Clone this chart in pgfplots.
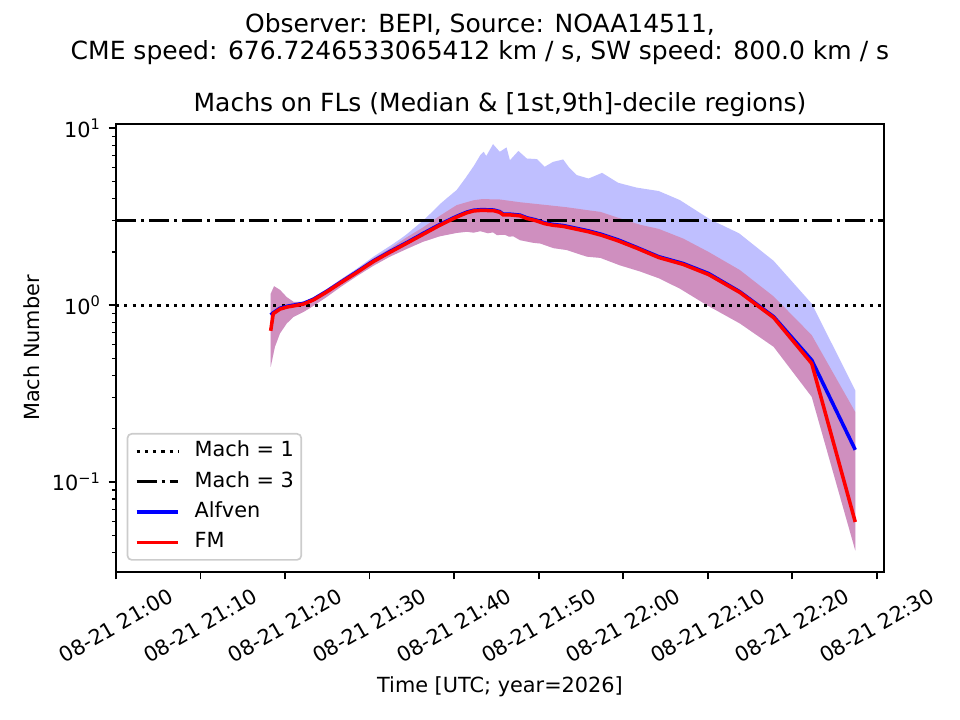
\documentclass[border=0pt]{standalone}
\usepackage{fontspec}
\setmainfont{DejaVu Sans}
\usepackage{graphicx}
\usepackage{pgfplots}
\pgfplotsset{compat=1.18}
\usepgfplotslibrary{fillbetween}
\usepackage{pgfplotstable}

% time in minutes after 2026-08-21 21:00 UTC
\pgfplotstableread{
t v
18.3 0.88
18.6 0.905
19.4 0.96
20.2 0.985
21.0 1.0
22.2 1.025
23.35 1.08
24.9 1.195
26.5 1.34
28.5 1.545
30.45 1.78
32.4 2.01
34.4 2.26
36.3 2.54
38.3 2.86
40.3 3.18
41.5 3.36
42.3 3.44
43.3 3.47
44.0 3.46
44.7 3.45
45.4 3.38
45.8 3.27
46.6 3.27
47.8 3.23
48.6 3.12
49.6 3.04
50.7 2.92
51.7 2.86
52.9 2.82
54.3 2.73
55.9 2.63
57.5 2.51
59.4 2.34
61.6 2.12
64.2 1.88
67.1 1.72
70.1 1.51
73.8 1.19
77.8 0.86
82.3 0.489
87.45 0.152
}\medA

\pgfplotstableread{
t v
18.3 0.716
18.6 0.895
19.4 0.95
20.2 0.975
21.0 0.99
22.2 1.015
23.35 1.07
24.9 1.185
26.5 1.33
28.5 1.53
30.45 1.765
32.4 1.99
34.4 2.24
36.3 2.51
38.3 2.83
40.3 3.15
41.5 3.33
42.3 3.41
43.3 3.44
44.0 3.43
44.7 3.42
45.4 3.35
45.8 3.24
46.6 3.24
47.8 3.20
48.6 3.09
49.6 3.01
50.7 2.89
51.7 2.83
52.9 2.79
54.3 2.70
55.9 2.60
57.5 2.48
59.4 2.31
61.6 2.10
64.2 1.86
67.1 1.70
70.1 1.49
73.8 1.18
77.8 0.85
82.3 0.468
87.45 0.0594
}\medF

\pgfplotstableread{
t v
18.3 1.16
18.7 1.28
19.4 1.22
20.2 1.11
21.0 1.045
22.2 1.04
23.35 1.11
24.9 1.23
26.5 1.39
28.5 1.61
30.45 1.88
32.4 2.16
33.6 2.36
34.4 2.52
36.3 3.0
37.55 3.42
38.3 3.72
39.2 4.05
40.3 4.48
41.3 5.2
42.3 6.1
43.1 7.06
43.5 7.37
43.8 6.97
44.6 8.14
45.4 7.37
46.2 7.8
46.6 6.6
47.6 7.45
48.6 6.75
49.8 6.7
50.7 6.06
51.7 6.46
52.9 6.67
53.6 6.0
54.5 5.44
55.9 5.2
57.5 5.6
59.4 4.92
61.6 4.62
64.2 4.42
66.7 3.93
70.3 3.05
73.7 2.55
77.8 1.78
82.3 1.02
87.45 0.33
}\hiA

\pgfplotstableread{
t v
18.3 1.16
18.7 1.28
19.4 1.22
20.2 1.11
21.0 1.045
22.2 1.04
23.35 1.11
24.9 1.23
26.5 1.385
28.5 1.59
30.45 1.84
32.4 2.09
34.4 2.42
36.3 2.75
37.55 3.02
38.3 3.2
40.3 3.68
42.3 3.92
43.3 3.98
45.4 3.96
47.8 3.82
49.4 3.75
51.7 3.65
53.3 3.58
55.7 3.45
57.3 3.37
59.6 3.1
62.0 2.85
64.2 2.7
67.1 2.38
70.1 2.0
73.8 1.58
77.8 1.12
82.3 0.677
87.45 0.249
}\hiF

\pgfplotstableread{
t v
18.3 0.447
18.8 0.581
19.4 0.692
20.2 0.788
21.0 0.858
22.2 0.916
23.35 0.99
24.9 1.11
26.5 1.26
28.5 1.46
30.45 1.67
32.4 1.88
34.4 2.08
36.3 2.28
38.3 2.45
40.3 2.56
41.5 2.6
42.3 2.57
43.1 2.62
44.0 2.55
44.6 2.58
45.05 2.49
46.0 2.5
46.5 2.44
47.0 2.45
47.8 2.33
49.4 2.25
50.2 2.23
51.75 2.1
53.3 2.05
55.7 1.88
57.3 1.85
59.6 1.68
62.0 1.55
64.2 1.42
66.7 1.24
69.9 1.0
73.8 0.788
77.8 0.581
82.3 0.303
87.45 0.041
}\lo

\begin{document}
\begin{tikzpicture}
\begin{axis}[
  at={(0pt,0pt)}, anchor=south west,
  scale only axis, width=368.64pt, height=215.04pt,
  ymode=log,
  xmin=0, xmax=90.85, ymin=0.03096, ymax=10.58,
  axis line style={line width=0.8pt, black},
  tick pos=left, tick align=outside,
  major tick length=3.5pt, minor tick length=2pt,
  every major tick/.append style={line width=0.8pt, black},
  every minor tick/.append style={line width=0.6pt, black},
  xtick={0,10,20,30,40,50,60,70,80,90},
  xticklabels={\rotatebox{30}{08-21 21:00},\rotatebox{30}{08-21 21:10},\rotatebox{30}{08-21 21:20},\rotatebox{30}{08-21 21:30},\rotatebox{30}{08-21 21:40},\rotatebox{30}{08-21 21:50},\rotatebox{30}{08-21 22:00},\rotatebox{30}{08-21 22:10},\rotatebox{30}{08-21 22:20},\rotatebox{30}{08-21 22:30}},
  xticklabel style={anchor=north, inner sep=0pt, yshift=-3.5pt, font=\fontsize{10}{12}\selectfont},
  ytick={0.1,1,10},
  yticklabels={10\textsuperscript{−1},10\textsuperscript{0},10\textsuperscript{1}},
  minor ytick={0.04,0.05,0.06,0.07,0.08,0.09,0.2,0.3,0.4,0.5,0.6,0.7,0.8,0.9,2,3,4,5,6,7,8,9},
  yticklabel style={anchor=east, inner sep=0pt, xshift=-3.5pt, font=\fontsize{10}{12}\selectfont},
  legend image code/.code={\draw[#1] (0pt,0pt) -- (20pt,0pt);},
  legend cell align=left,
  legend style={at={(0.0139,0.0252)}, anchor=south west,
    font=\fontsize{10}{12}\selectfont,
    draw=black!20, line width=0.8pt, rounded corners=2pt, inner sep=3.5pt,
    row sep=4.9pt, column sep=7pt,
    nodes={inner sep=0pt, text height=7.5pt, text depth=2.2pt}},
]
\addplot[draw=none, name path=hiA, forget plot] table[x=t, y=v] {\hiA};
\addplot[draw=none, name path=hiF, forget plot] table[x=t, y=v] {\hiF};
\addplot[draw=none, name path=lo, forget plot] table[x=t, y=v] {\lo};
\addplot[fill=blue, fill opacity=0.25, draw=none, forget plot] fill between[of=hiA and lo];
\addplot[fill=red, fill opacity=0.25, draw=none, forget plot] fill between[of=hiF and lo];

\addplot[black, line width=1.5pt, dash pattern=on 1.5pt off 2.475pt] coordinates {(0,1) (90.85,1)};
\addlegendentry{Mach = 1}
\addplot[black, line width=1.5pt, dash pattern=on 9.6pt off 2.4pt on 1.5pt off 2.4pt] coordinates {(0,3) (90.85,3)};
\addlegendentry{Mach = 3}
\addplot[blue, line width=1.7pt] table[x=t, y=v] {\medA};
\addlegendentry{Alfven}
\addplot[red, line width=1.7pt] table[x=t, y=v] {\medF};
\addlegendentry{FM}
\end{axis}
\node[anchor=base, font=\fontsize{12}{14}\selectfont] at (174.72pt,258.9pt) {Observer: BEPI, Source: NOAA14511,};
\node[anchor=base, font=\fontsize{12}{14}\selectfont] at (174.72pt,246.1pt) {CME speed: 676.7246533065412 km / s, SW speed: 800.0 km / s};
\node[anchor=base, font=\fontsize{12}{14}\selectfont] at (184.32pt,220.9pt) {Machs on FLs (Median \& [1st,9th]-decile regions)};
\node[anchor=base, font=\fontsize{10}{12}\selectfont] at (184.32pt,-57.6pt) {Time [UTC; year=2026]};
\node[anchor=base, rotate=90, font=\fontsize{10}{12}\selectfont] at (-36.5pt,107.5pt) {Mach Number};
\path (-55.68pt,-71.04pt) rectangle (405.12pt,274.56pt);
\end{tikzpicture}
\end{document}
